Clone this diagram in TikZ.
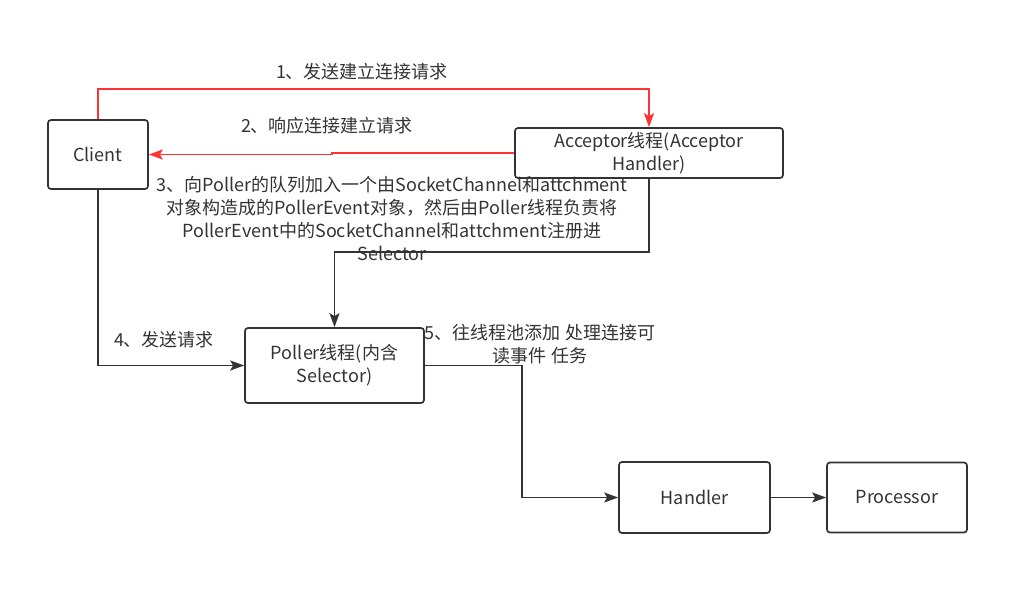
\documentclass[tikz,border=0pt]{standalone}
\usepackage{fontspec}
\setmainfont{Noto Sans CJK SC}
\usetikzlibrary{positioning,arrows.meta}
\definecolor{linkred}{RGB}{255,51,51}
\definecolor{inkgray}{RGB}{51,51,51}
\newcommand{\tipA}{Stealth[length=14pt,width=10pt,inset=3pt]}

\begin{document}
\begin{tikzpicture}[x=1pt,y=-1pt,
    box/.style={draw=inkgray,line width=1.7pt,rounded corners=3pt,align=center,
      inner sep=0pt,text=inkgray,font=\fontsize{18}{23}\selectfont},
    wire/.style={draw=inkgray,line width=1.6pt,-{\tipA}},
    redwire/.style={draw=linkred,line width=1.6pt,-{\tipA}},
    lbl/.style={inner sep=0pt,align=center,text=inkgray,font=\fontsize{18}{23}\selectfont}]
  \useasboundingbox (0,0) rectangle (1029,595);
  % boxes
  \node[box,minimum width=100pt,minimum height=69pt] (client) at (98,154.5) {Client};
  \node[box,minimum width=268pt,minimum height=50pt] (acceptor) at (649,153) {Acceptor线程(Acceptor\\Handler)};
  \node[box,minimum width=179pt,minimum height=75pt] (poller) at (334.5,365.5) {Poller线程(内含\\Selector)};
  \node[box,minimum width=151pt,minimum height=71pt] (handler) at (694.5,497.5) {Handler};
  \node[box,minimum width=140pt,minimum height=70pt] (processor) at (897,497.5) {Processor};
  % connectors
  \draw[redwire] (client.north) -- (client.north |- 0,89) -| (acceptor.north);
  \draw[redwire] (acceptor.west) -| (332,154.5) -- (client.east);
  \draw[wire] (acceptor.south) -- (acceptor.south |- 0,252) -| (poller.north);
  \draw[wire] (client.south) |- (poller.west);
  \draw[wire] (poller.east) -- ++(97,0) |- (handler.west);
  \draw[wire] (handler) -- (processor);
  % labels
  \node[lbl] (stepA) at (362,72) {1、发送建立连接请求};
  \node[lbl] (stepB) at (327,126) {2、响应连接建立请求};
  \node[lbl] (stepC) at (392,219) {3、向Poller的队列加入一个由SocketChannel和attchment\\对象构造成的PollerEvent对象，然后由Poller线程负责将\\PollerEvent中的SocketChannel和attchment注册进\\Selector};
  \node[lbl] (stepD) at (164,340) {4、发送请求};
  \node[lbl] (stepE) at (540,344) {5、往线程池添加 处理连接可\\读事件 任务};
\end{tikzpicture}
\end{document}
